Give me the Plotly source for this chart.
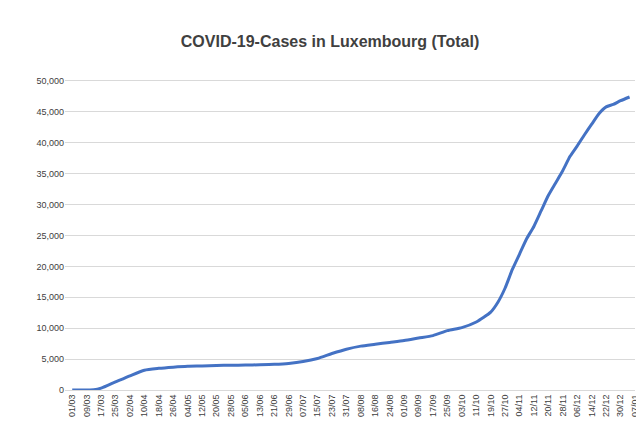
import pandas as pd
import plotly.graph_objects as go

dates = ["2020-03-01", "2020-03-09", "2020-03-13", "2020-03-17", "2020-03-21", "2020-03-25", "2020-04-02",
         "2020-04-10", "2020-04-18", "2020-04-26", "2020-05-04", "2020-05-12", "2020-05-20",
         "2020-05-28", "2020-06-05", "2020-06-13", "2020-06-21", "2020-06-29", "2020-07-07",
         "2020-07-15", "2020-07-23", "2020-07-31", "2020-08-08", "2020-08-16", "2020-08-24",
         "2020-09-01", "2020-09-09", "2020-09-17", "2020-09-25", "2020-10-03", "2020-10-11",
         "2020-10-19", "2020-10-23", "2020-10-27", "2020-10-31", "2020-11-04", "2020-11-08",
         "2020-11-12", "2020-11-16", "2020-11-20", "2020-11-24", "2020-11-28", "2020-12-02",
         "2020-12-06", "2020-12-10", "2020-12-14", "2020-12-18", "2020-12-22", "2020-12-26",
         "2020-12-30", "2021-01-04"]
cases = [0, 0, 30, 300, 800, 1300, 2300,
         3200, 3500, 3700, 3850, 3900, 3980,
         4000, 4030, 4080, 4150, 4300, 4600,
         5100, 5900, 6600, 7100, 7400, 7700,
         8000, 8400, 8800, 9600, 10100, 11000,
         12600, 14200, 16500, 19500, 22000, 24500,
         26500, 29000, 31500, 33500, 35500, 37800,
         39500, 41300, 43000, 44700, 45800, 46200,
         46800, 47400]

fig = go.Figure(go.Scatter(
    x=pd.to_datetime(dates), y=cases, mode="lines",
    line=dict(color="#4472C4", width=3, shape="spline", smoothing=0.6),
))

fig.update_layout(
    width=644, height=429,
    margin=dict(l=57, r=14, t=55, b=47),
    paper_bgcolor="white", plot_bgcolor="white",
    title=dict(text="<b>COVID-19-Cases in Luxembourg (Total)</b>", x=0.5, y=0.935,
               font=dict(family="Liberation Sans", size=16, color="#404040")),
    font=dict(family="Liberation Sans", size=9, color="#404040"),
    showlegend=False,
)
fig.update_xaxes(
    range=["2020-02-26", "2021-01-07"], tick0="2020-03-01", dtick=8 * 86400000,
    tickformat="%d/%m", tickangle=-90, showgrid=False,
    showline=True, linecolor="#d9d9d9", ticks="",
)
fig.update_yaxes(
    range=[0, 52900], dtick=5000, tickformat=",", showgrid=True,
    gridcolor="#d9d9d9", zeroline=False, ticks="",
)
fig.write_html("out.html")
